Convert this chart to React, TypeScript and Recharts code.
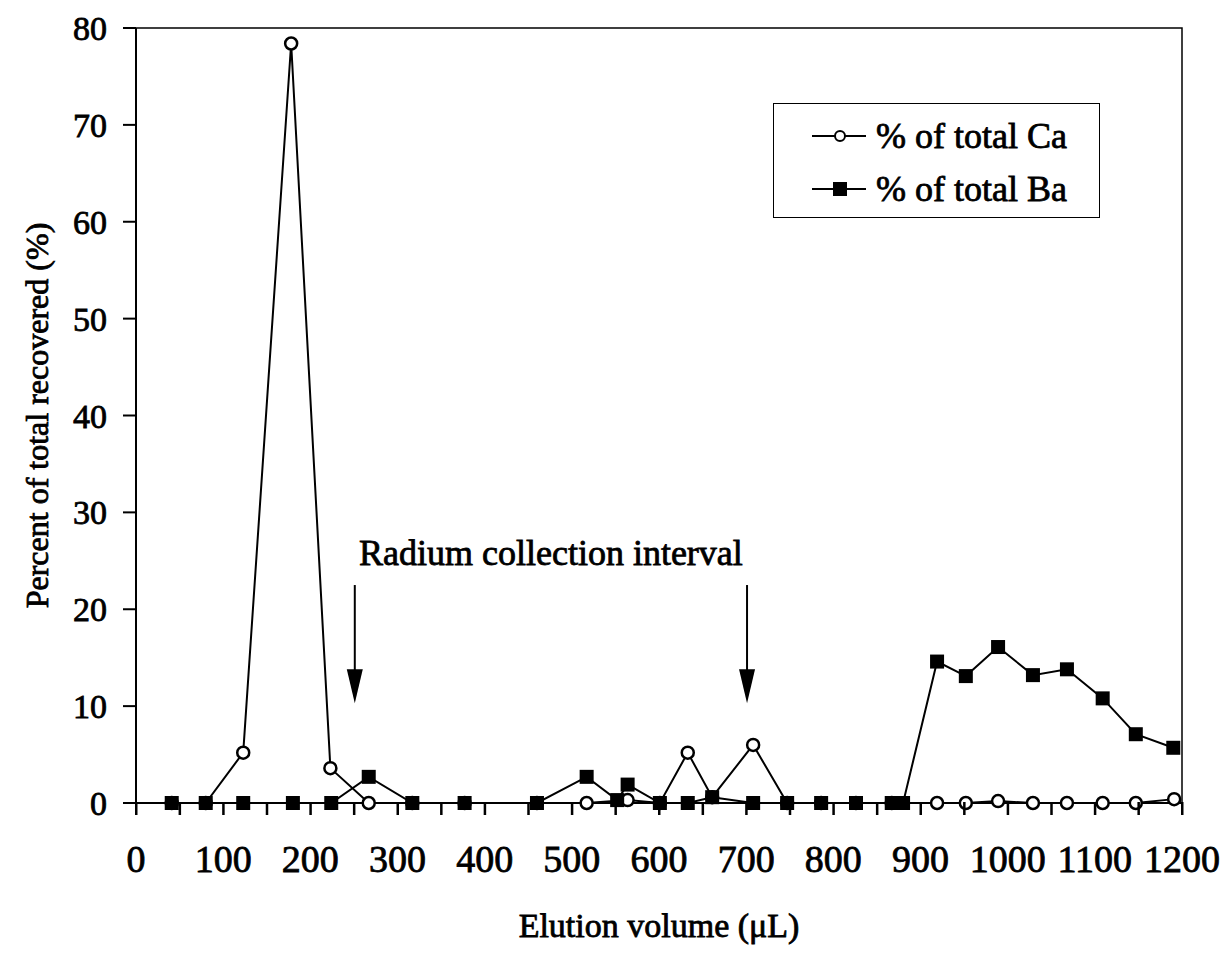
// Elution profile of Ca and Ba from the column
import {
  Line,
  LineChart,
  ReferenceArea,
  ReferenceDot,
  ReferenceLine,
  XAxis,
  YAxis,
} from "recharts";

const FONT = '"Liberation Serif", "Times New Roman", serif';

// % of total Ca
const caVolume = [41, 80, 123, 178, 223, 267, 317, 377, 460, 517, 564, 601, 633, 661, 708, 747, 786, 826, 867, 919, 952, 989, 1029, 1068, 1109, 1147, 1191];
const caPercent = [0, 0, 5.2, 78.4, 3.6, 0, 0, 0, 0, 0, 0.3, 0, 5.2, 0.6, 6.0, 0, 0, 0, 0, 0, 0, 0.2, 0, 0, 0, 0, 0.4];

// % of total Ba
const baVolume = [41, 80, 123, 180, 224, 267, 317, 377, 460, 517, 552, 564, 601, 633, 661, 708, 747, 786, 826, 867, 880, 919, 952, 989, 1029, 1068, 1109, 1147, 1190];
const baPercent = [0, 0, 0, 0, 0, 2.7, 0, 0, 0, 2.7, 0.3, 1.9, 0, 0, 0.6, 0, 0, 0, 0, 0, 0, 14.6, 13.1, 16.1, 13.2, 13.8, 10.8, 7.1, 5.7];

// axis ticks (labels only on hundreds)
const xTicks = [0, 50, 100, 150, 200, 250, 300, 350, 400, 450, 500, 550, 600, 650, 700, 750, 800, 850, 900, 950, 1000, 1050, 1100, 1150, 1200];
const yTicks = [0, 10, 20, 30, 40, 50, 60, 70, 80];

// radium collection interval arrows
const arrowVolume = [251, 701];
const arrowTop = 22.5;
const arrowTip = 10.3;
const noteText = "Radium collection interval";
const noteVolume = 476;
const notePercent = 24.6;

const caData = caVolume.map((v, i) => ({ volume: v, ca: caPercent[i] }));
const baData = baVolume.map((v, i) => ({ volume: v, ba: baPercent[i] }));

// scanned look: text a bit heavier than plain regular
const heavy = { stroke: "#000", strokeWidth: 0.8 };

function Square(props: any) {
  const { cx, cy, index } = props;
  return <rect key={"sq" + index} x={cx - 7} y={cy - 7} width={14} height={14} fill="#000" />;
}

function ArrowHead(props: any) {
  const { cx, cy } = props;
  return <polygon points={`${cx - 8},${cy - 34} ${cx + 8},${cy - 34} ${cx},${cy}`} fill="#000" />;
}

function NoteText(props: any) {
  const { cx, cy } = props;
  return (
    <text x={cx} y={cy} textAnchor="middle" fontFamily={FONT} fontSize={36} fill="#000" {...heavy}>
      {noteText}
    </text>
  );
}

// x tick: mark every 50, label every 100
function XTick(props: any) {
  const { x, y, payload } = props;
  const v = payload.value;
  return (
    <g>
      <rect x={x - 1} y={y - 13} width={2.5} height={13} fill="#000" />
      {v % 100 === 0 ? (
        <text x={x} y={y + 57} textAnchor="middle" fontFamily={FONT} fontSize={38} fill="#000" {...heavy}>
          {v}
        </text>
      ) : null}
    </g>
  );
}

function LegendBox() {
  const row = (label: string, marker: "circle" | "square") => (
    <div style={{ display: "flex", alignItems: "center", height: 53 }}>
      <svg width={54} height={20} style={{ marginLeft: 38, marginRight: 10 }}>
        <line x1={0} y1={10} x2={54} y2={10} stroke="#000" strokeWidth={2} />
        {marker === "circle" ? (
          <circle cx={28} cy={10} r={5} fill="#fff" stroke="#000" strokeWidth={2} />
        ) : (
          <rect x={21} y={3} width={14} height={14} fill="#000" />
        )}
      </svg>
      <span
        style={{
          fontFamily: FONT,
          fontSize: 36,
          color: "#000",
          whiteSpace: "nowrap",
          WebkitTextStroke: "0.8px #000",
        }}
      >
        {label}
      </span>
    </div>
  );
  return (
    <div
      style={{
        position: "absolute",
        left: 773,
        top: 103,
        width: 327,
        height: 115,
        border: "1.5px solid #000",
        boxSizing: "border-box",
        background: "#fff",
        paddingTop: 5,
      }}
    >
      {row("% of total Ca", "circle")}
      {row("% of total Ba", "square")}
    </div>
  );
}

export default function App() {
  return (
    <div style={{ position: "absolute", left: 0, top: 0, width: 1227, height: 956, background: "#fff" }}>
      <LineChart width={1227} height={956} margin={{ top: 28, right: 45, left: 0, bottom: 0 }}>
        <XAxis
          dataKey="volume"
          type="number"
          domain={[0, 1200]}
          ticks={xTicks}
          interval={0}
          tickSize={12}
          tickMargin={0}
          height={153}
          axisLine={{ stroke: "#000", strokeWidth: 2 }}
          tickLine={false}
          tick={<XTick />}
          label={({ viewBox }: any) => (
            <text
              x={viewBox.x + viewBox.width / 2}
              y={937}
              textAnchor="middle"
              fontFamily={FONT}
              fontSize={34}
              fill="#000"
              {...heavy}
            >
              Elution volume (μL)
            </text>
          )}
        />
        <YAxis
          type="number"
          domain={[0, 80]}
          ticks={yTicks}
          interval={0}
          width={136}
          tickSize={13}
          tickMargin={16}
          axisLine={{ stroke: "#000", strokeWidth: 2 }}
          tickLine={{ stroke: "#000", strokeWidth: 2 }}
          tick={{ fill: "#000", fontFamily: FONT, fontSize: 34, ...heavy }}
          label={({ viewBox }: any) => (
            <text
              x={48}
              y={viewBox.y + viewBox.height / 2}
              transform={`rotate(-90, 48, ${viewBox.y + viewBox.height / 2})`}
              textAnchor="middle"
              fontFamily={FONT}
              fontSize={32}
              fill="#000"
              {...heavy}
            >
              Percent of total recovered (%)
            </text>
          )}
        />
        <ReferenceArea x1={0} x2={1200} y1={0} y2={80} fill="none" stroke="#000" strokeWidth={1.5} />
        {arrowVolume.map((v) => (
          <ReferenceLine
            key={"al" + v}
            segment={[
              { x: v, y: arrowTop },
              { x: v, y: arrowTip + 2 },
            ]}
            stroke="#000"
            strokeWidth={2}
          />
        ))}
        {arrowVolume.map((v) => (
          <ReferenceDot key={"ah" + v} x={v} y={arrowTip} r={0} shape={ArrowHead} />
        ))}
        <ReferenceDot x={noteVolume} y={notePercent} r={0} shape={NoteText} />
        <Line
          data={caData}
          dataKey="ca"
          name="% of total Ca"
          stroke="#000"
          strokeWidth={2}
          dot={{ r: 6, fill: "#fff", stroke: "#000", strokeWidth: 2.5 }}
          isAnimationActive={false}
        />
        <Line
          data={baData}
          dataKey="ba"
          name="% of total Ba"
          stroke="#000"
          strokeWidth={2}
          dot={Square}
          isAnimationActive={false}
        />
      </LineChart>
      <LegendBox />
    </div>
  );
}
